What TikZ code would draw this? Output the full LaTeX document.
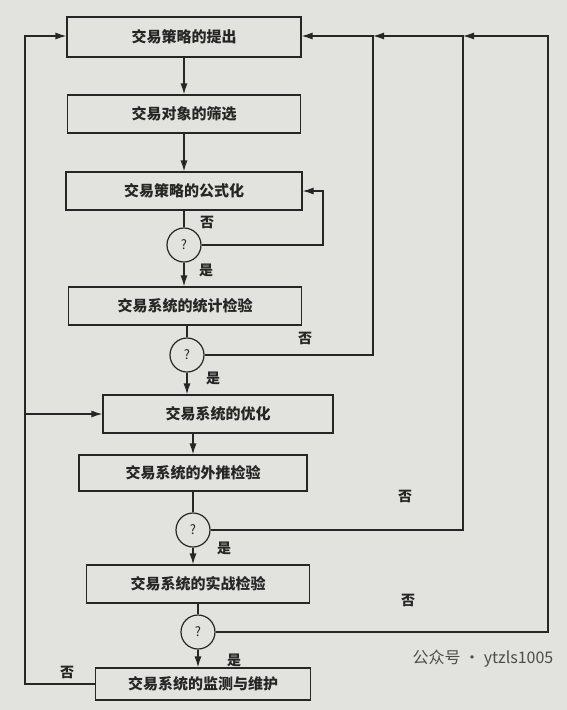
\documentclass[tikz,border=0pt]{standalone}
\usepackage{fontspec}
\setmainfont{Noto Sans CJK SC}
\usetikzlibrary{arrows.meta}
\definecolor{pagebg}{RGB}{226,226,223}
\definecolor{ink}{RGB}{38,38,38}
\tikzset{
  stepbox/.style={draw=ink, line width=1.2pt, inner sep=0pt, text=ink, font=\fontsize{15}{17}\selectfont\bfseries},
  ask/.style={circle, draw=ink, line width=1.2pt, minimum size=34pt, inner sep=0pt, text=ink, font=\fontsize{13}{15}\selectfont},
  flow/.style={draw=ink, line width=1.2pt, -{Latex[length=11pt,width=7pt]}},
  plain/.style={draw=ink, line width=1.2pt},
  tag/.style={inner sep=1pt, text=ink, font=\fontsize{14}{16}\selectfont\bfseries}
}
\begin{document}
\begin{tikzpicture}[x=1pt,y=-1pt]
  \fill[pagebg] (0,0) rectangle (567,710);
  % steps of the chain
  \foreach \n/\x/\y/\w/\h/\txt in {
    b1/184/37/234/40/{交易策略的提出},
    b2/184/114/233/38/{交易对象的筛选},
    b3/184/191/236/38/{交易策略的公式化},
    b4/185/306/233/38/{交易系统的统计检验},
    b5/218/414/230/38/{交易系统的优化},
    b6/193/473/228/36/{交易系统的外推检验},
    b7/198/584/223/38/{交易系统的实战检验},
    b8/203/684/215/32/{交易系统的监测与维护}} {
    \node[stepbox, minimum width=\w pt, minimum height=\h pt] (\n) at (\x,\y) {\txt};
  }
  % checks
  \foreach \n/\x/\y in {q1/184/245, q2/187/355, q3/193/530, q4/198/632} {
    \node[ask] (\n) at (\x,\y) {?};
  }
  \coordinate (r1) at (323,245);
  \coordinate (r2) at (373,36);
  \coordinate (r3) at (463,36);
  \coordinate (r4) at (548,36);
  \coordinate (lft) at (25,36);

  % main line
  \draw[flow] (b1) -- (b2);
  \draw[flow] (b2) -- (b3);
  \draw[plain] (b3) -- (q1);
  \draw[flow] (q1) -- (q1 |- b4.north);
  \draw[plain] (b4.south -| q2) -- (q2);
  \draw[flow] (q2) -- (q2 |- b5.north);
  \draw[flow] (b5.south -| b6) -- (b6);
  \draw[plain] (b6.south -| q3) -- (q3);
  \draw[flow] (q3) -- (q3 |- b7.north);
  \draw[plain] (b7.south -| q4) -- (q4);
  \draw[flow] (q4) -- (q4 |- b8.north);

  % loops back
  \draw[flow] (q1) -- (r1) |- (b3.east);
  \draw[flow] (q2) -| (r2) -- (r2 -| b1.east);
  \draw[flow] (q3) -| (r3) -- (r2);
  \draw[flow] (q4) -| (r4) -- (r3);
  \draw[flow] (b8.west) -| (lft) -- (lft -| b1.west);
  \draw[flow] (lft |- b5.west) -- (b5.west);

  % labels
  \node[tag] (n1) at (207,222) {否};
  \node[tag] (y1) at (206,270) {是};
  \node[tag] (n2) at (305,338) {否};
  \node[tag] (y2) at (213,378) {是};
  \node[tag] (n3) at (405,496) {否};
  \node[tag] (y3) at (224,548) {是};
  \node[tag] (n4) at (408,600) {否};
  \node[tag] (y4) at (234,660) {是};
  \node[tag] (n5) at (67,672) {否};
  \node[text=gray!60!black, font=\fontsize{16}{18}\selectfont] (mark) at (483,659) {公众号 · ytzls1005};
\end{tikzpicture}
\end{document}
